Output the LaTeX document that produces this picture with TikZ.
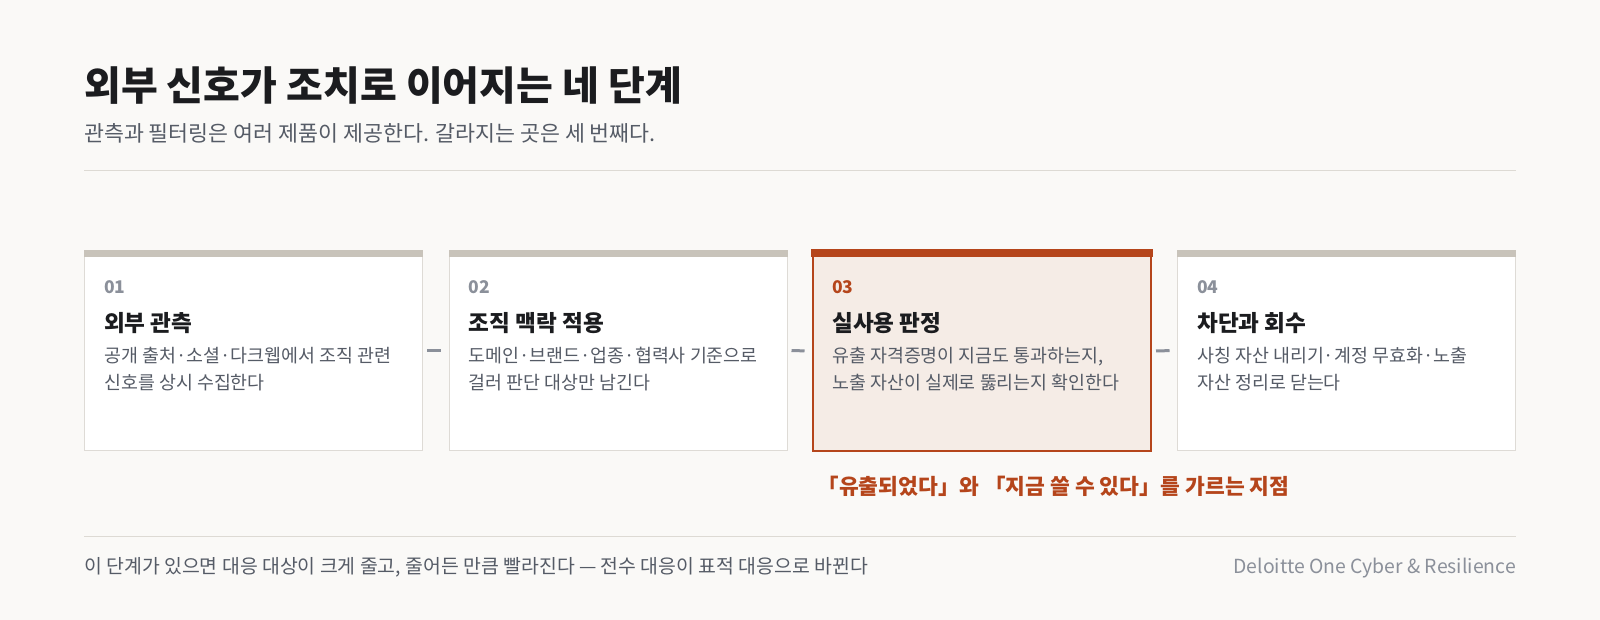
\documentclass[tikz,border=0pt]{standalone}
\usepackage{fontspec}
\setmainfont{Noto Sans CJK KR}
\usetikzlibrary{calc}
\definecolor{bg}{HTML}{FAF9F7}
\definecolor{rulec}{HTML}{DDDAD4}
\definecolor{cardline}{HTML}{DEDBD6}
\definecolor{barc}{HTML}{C8C3BA}
\definecolor{accent}{HTML}{B5451B}
\definecolor{accentbg}{HTML}{F5ECE6}
\definecolor{ink}{HTML}{1B1C1F}
\definecolor{body}{HTML}{555B66}
\definecolor{muted}{HTML}{8B909A}
\newcommand\fTitle{\fontsize{40}{48}\selectfont\bfseries}
\newcommand\fSub{\fontsize{21.7}{28}\selectfont}
\newcommand\fNum{\fontsize{17.5}{20}\selectfont\bfseries}
\newcommand\fHead{\fontsize{22.6}{28}\selectfont\bfseries}
\newcommand\fDesc{\fontsize{18.4}{26}\selectfont}
\newcommand\fNote{\fontsize{21.5}{28}\selectfont\bfseries}
\newcommand\fFoot{\fontsize{19.4}{26}\selectfont}
\begin{document}
\begin{tikzpicture}[x=1pt,y=-1pt,
  txt/.style={inner sep=0pt, anchor=base west},
  card/.style={draw=cardline, line width=1pt, fill=white, minimum width=338pt, minimum height=200pt, inner sep=0pt, anchor=north west},
  hotcard/.style={card, draw=accent, line width=2pt, fill=accentbg},
  bar/.style={fill=barc},
  hotbar/.style={fill=accent},
  conn/.style={draw=muted, line width=3pt, shorten <=4pt, shorten >=7.5pt},
  rule/.style={draw=rulec, line width=1.6pt}]
\fill[bg] (0,0) rectangle (1600,620);
\useasboundingbox (0,0) rectangle (1600,620);

% header
\node[txt, text=ink] (title) at (84,101) {\fTitle 외부 신호가 조치로 이어지는 네 단계};
\node[txt, text=body] (sub) at (84,141.6) {\fSub 관측과 필터링은 여러 제품이 제공한다. 갈라지는 곳은 세 번째다.};
\draw[rule] (84,170.5) -- (1516,170.5);

% cards
\node[card] (c1) at (84,250) {};
\node[card] (c2) at (448.5,250) {};
\node[hotcard] (c3) at (812,250) {};
\node[card] (c4) at (1177,250) {};

\fill[bar] (c1.north west) rectangle ($(c1.north east)+(0,6.7)$);
\fill[bar] (c2.north west) rectangle ($(c2.north east)+(0,6.7)$);
\fill[hotbar] ($(c3.north west)+(-1,-1)$) rectangle ($(c3.north east)+(1,6.7)$);
\fill[bar] (c4.north west) rectangle ($(c4.north east)+(0,6.7)$);

\draw[conn] (c1.east) -- (c2.west);
\draw[conn] (c2.east) -- (c3.west);
\draw[conn] (c3.east) -- (c4.west);

% card 1
\node[txt, text=muted] (n1) at ($(c1.north west)+(20,43.5)$) {\fNum 01};
\node[txt, text=ink] (h1) at ($(c1.north west)+(20,81.7)$) {\fHead 외부 관측};
\node[txt, text=body] (d1a) at ($(c1.north west)+(20,112.5)$) {\fDesc 공개 출처·소셜·다크웹에서 조직 관련};
\node[txt, text=body] (d1b) at ($(c1.north west)+(20,139)$) {\fDesc 신호를 상시 수집한다};

% card 2
\node[txt, text=muted] (n2) at ($(c2.north west)+(20,43.5)$) {\fNum 02};
\node[txt, text=ink] (h2) at ($(c2.north west)+(20,81.7)$) {\fHead 조직 맥락 적용};
\node[txt, text=body] (d2a) at ($(c2.north west)+(20,112.5)$) {\fDesc 도메인·브랜드·업종·협력사 기준으로};
\node[txt, text=body] (d2b) at ($(c2.north west)+(20,139)$) {\fDesc 걸러 판단 대상만 남긴다};

% card 3
\node[txt, text=accent] (n3) at ($(c3.north west)+(20,43.5)$) {\fNum 03};
\node[txt, text=ink] (h3) at ($(c3.north west)+(20,81.7)$) {\fHead 실사용 판정};
\node[txt, text=body] (d3a) at ($(c3.north west)+(20,112.5)$) {\fDesc 유출 자격증명이 지금도 통과하는지,};
\node[txt, text=body] (d3b) at ($(c3.north west)+(20,139)$) {\fDesc 노출 자산이 실제로 뚫리는지 확인한다};

% card 4
\node[txt, text=muted] (n4) at ($(c4.north west)+(20,43.5)$) {\fNum 04};
\node[txt, text=ink] (h4) at ($(c4.north west)+(20,81.7)$) {\fHead 차단과 회수};
\node[txt, text=body] (d4a) at ($(c4.north west)+(20,112.5)$) {\fDesc 사칭 자산 내리기·계정 무효화·노출};
\node[txt, text=body] (d4b) at ($(c4.north west)+(20,139)$) {\fDesc 자산 정리로 닫는다};

% note
\node[txt, text=accent] (note) at (817.5,494.5) {\fNote 「유출되었다」와 「지금 쓸 수 있다」를 가르는 지점};

% footer
\draw[rule] (84,536.5) -- (1516,536.5);
\node[txt, text=body] (foot) at (84,573.3) {\fFoot 이 단계가 있으면 대응 대상이 크게 줄고, 줄어든 만큼 빨라진다 — 전수 대응이 표적 대응으로 바뀐다};
\node[inner sep=0pt, anchor=base east, text=muted] (brand) at (1516,573.3) {\fFoot Deloitte One Cyber \& Resilience};
\end{tikzpicture}
\end{document}
